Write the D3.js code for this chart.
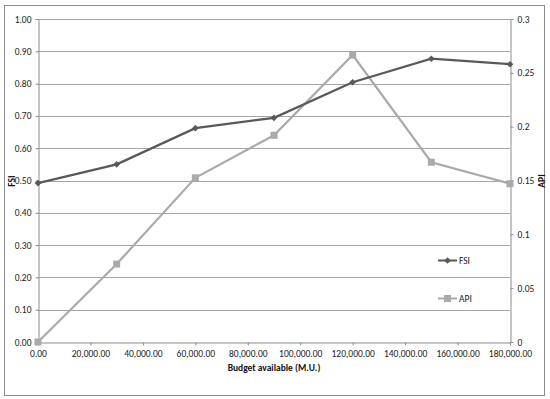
<!DOCTYPE html>
<html>
<head>
<meta charset="utf-8">
<script src="https://cdn.jsdelivr.net/npm/d3@7"></script>
<style>
  body { margin: 0; background: #fff; }
  text { font-family: Calibri, Carlito, "Liberation Sans", Arial, sans-serif; }
</style>
</head>
<body>
<div id="chart"></div>
<script>
const w = 550, h = 399;

const budget = [0, 30000, 60000, 90000, 120000, 150000, 180000];
const fsi = [0.492, 0.550, 0.662, 0.694, 0.804, 0.877, 0.860];
const api = [0, 0.0724, 0.1525, 0.192, 0.2665, 0.167, 0.147];
const xTicks = [0, 20000, 40000, 60000, 80000, 100000, 120000, 140000, 160000, 180000];
const leftTicks = [0, 0.1, 0.2, 0.3, 0.4, 0.5, 0.6, 0.7, 0.8, 0.9, 1.0];
const rightTicks = [0, 0.05, 0.1, 0.15, 0.2, 0.25, 0.3];

const m = {left: 38, right: 510, top: 19, bottom: 342};

const svg = d3.select("#chart").append("svg")
  .attr("width", w).attr("height", h);

// outer frame
svg.append("rect").attr("x", 4.5).attr("y", 5.5).attr("width", 540).attr("height", 390)
  .attr("fill", "#fff").attr("stroke", "#8c8c8c").attr("stroke-width", 1);

const x = d3.scaleLinear().domain([0, 180000]).range([m.left, m.right]);
const yL = d3.scaleLinear().domain([0, 1]).range([m.bottom, m.top]);
const yR = d3.scaleLinear().domain([0, 0.3]).range([m.bottom, m.top]);

// gridlines
svg.append("g").selectAll("line").data(leftTicks.slice(1)).join("line")
  .attr("x1", m.left).attr("x2", m.right)
  .attr("y1", d => Math.round(yL(d)) + 0.5).attr("y2", d => Math.round(yL(d)) + 0.5)
  .attr("stroke", "#a6a6a6").attr("stroke-width", 1);

const fmtX = d3.format(",.2f");
const fmtL = d3.format(".2f");

// bottom axis
const gx = svg.append("g").attr("transform", `translate(0,${m.bottom + 0.5})`)
  .call(d3.axisBottom(x).tickValues(xTicks).tickFormat(fmtX).tickSize(3).tickSizeOuter(0));
gx.select(".domain").attr("stroke", "#8c8c8c");
gx.selectAll(".tick line").attr("stroke", "#8c8c8c");
gx.selectAll(".tick text").attr("font-size", 9.5).attr("fill", "#222").attr("dy", "0.9em");

// left axis
const gl = svg.append("g").attr("transform", `translate(${m.left + 0.5},0)`)
  .call(d3.axisLeft(yL).tickValues(leftTicks).tickFormat(fmtL).tickSize(3).tickSizeOuter(0));
gl.select(".domain").attr("stroke", "#8c8c8c");
gl.selectAll(".tick line").attr("stroke", "#8c8c8c");
gl.selectAll(".tick text").attr("font-size", 9.5).attr("fill", "#222").attr("x", -7);

// right axis
const gr = svg.append("g").attr("transform", `translate(${m.right + 0.5},0)`)
  .call(d3.axisRight(yR).tickValues(rightTicks).tickFormat(d => String(+d.toFixed(2))).tickSize(3).tickSizeOuter(0));
gr.select(".domain").attr("stroke", "#8c8c8c");
gr.selectAll(".tick line").attr("stroke", "#8c8c8c");
gr.selectAll(".tick text").attr("font-size", 9.5).attr("fill", "#222").attr("x", 7);

// axis titles
svg.append("text").attr("x", 274).attr("y", 371).attr("text-anchor", "middle")
  .attr("font-size", 9.5).attr("font-weight", "bold").attr("fill", "#111")
  .text("Budget available (M.U.)");
svg.append("text").attr("transform", "translate(15,181) rotate(-90)").attr("text-anchor", "middle")
  .attr("font-size", 9.5).attr("font-weight", "bold").attr("fill", "#111").text("FSI");
svg.append("text").attr("transform", "translate(545,181) rotate(-90)").attr("text-anchor", "middle")
  .attr("font-size", 9.5).attr("font-weight", "bold").attr("fill", "#111").text("API");

// series
const fsiColor = "#595959", apiColor = "#aaaaaa";
const fsiPts = budget.map((b, i) => [x(b), yL(fsi[i])]);
const apiPts = budget.map((b, i) => [x(b), yR(api[i])]);
const line = d3.line();

svg.append("path").attr("d", line(apiPts)).attr("fill", "none")
  .attr("stroke", apiColor).attr("stroke-width", 2.2);
svg.append("g").selectAll("rect").data(apiPts).join("rect")
  .attr("x", d => d[0] - 3.5).attr("y", d => d[1] - 3.5).attr("width", 7).attr("height", 7)
  .attr("fill", apiColor);

svg.append("path").attr("d", line(fsiPts)).attr("fill", "none")
  .attr("stroke", fsiColor).attr("stroke-width", 2.2);
const diamond = d3.symbol().type(d3.symbolDiamond2).size(28);
svg.append("g").selectAll("path").data(fsiPts).join("path")
  .attr("transform", d => `translate(${d[0]},${d[1]})`).attr("d", diamond)
  .attr("fill", fsiColor);

// legend
const legend = [
  {name: "FSI", color: fsiColor, y: 260.5, shape: "diamond"},
  {name: "API", color: apiColor, y: 298.5, shape: "square"}
];
const lg = svg.append("g").selectAll("g").data(legend).join("g");
lg.append("line").attr("x1", 438).attr("x2", 457).attr("y1", d => d.y).attr("y2", d => d.y)
  .attr("stroke", d => d.color).attr("stroke-width", 2);
lg.filter(d => d.shape === "diamond").append("path")
  .attr("transform", d => `translate(447.5,${d.y})`).attr("d", diamond).attr("fill", d => d.color);
lg.filter(d => d.shape === "square").append("rect")
  .attr("x", 444).attr("y", d => d.y - 3.5).attr("width", 7).attr("height", 7).attr("fill", d => d.color);
lg.append("text").attr("x", 459).attr("y", d => d.y).attr("dy", "0.35em")
  .attr("font-size", 9.5).attr("fill", "#222").text(d => d.name);
</script>
</body>
</html>
